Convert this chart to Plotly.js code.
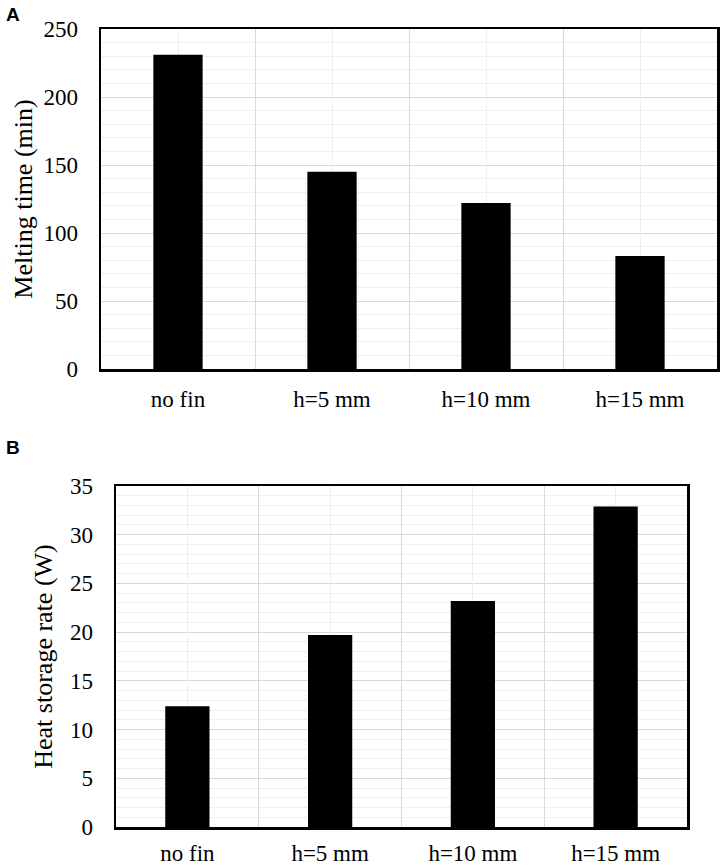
<!DOCTYPE html>
<html>
<head>
<meta charset="utf-8">
<script src="https://cdn.plot.ly/plotly-3.0.1.min.js"></script>
<style>html,body{margin:0;padding:0;background:#fff;}#chart{width:720px;height:865px;}</style>
</head>
<body>
<div id="chart"></div>
<script>
const categories = ["no fin", "h=5 mm", "h=10 mm", "h=15 mm"];
const meltingTime = [231, 145, 122, 83];
const heatStorageRate = [12.4, 19.7, 23.2, 32.9];
const centerPos = [0, 1, 2, 3];

const serif = "Liberation Serif, Times New Roman, serif";
const majorGrid = "#d9d9d9";
const minorGrid = "#efefef";

const traces = [
  {type: "bar", x: categories, y: meltingTime, xaxis: "x", yaxis: "y",
   width: 0.32, marker: {color: "#000"}, hoverinfo: "x+y"},
  {type: "bar", x: categories, y: heatStorageRate, xaxis: "x2", yaxis: "y2",
   width: 0.31, marker: {color: "#000"}, hoverinfo: "x+y"}
];

function catAxis(domain, anchor, standoff) {
  return {
    domain: domain, anchor: anchor, type: "category",
    tickson: "boundaries", showgrid: true, gridcolor: majorGrid, gridwidth: 1,
    ticks: "", showline: true, linecolor: "#000", linewidth: 2.5, mirror: true,
    tickfont: {family: serif, size: 23, color: "#000"},
    ticklabelstandoff: standoff, zeroline: false, fixedrange: true,
    range: [-0.5, 3.5]
  };
}
function overlayAxis(domain, anchor, over) {
  return {
    domain: domain, anchor: anchor, overlaying: over, type: "linear",
    range: [-0.5, 3.5], tickvals: centerPos, showticklabels: false, ticks: "",
    showgrid: true, gridcolor: minorGrid, gridwidth: 1, zeroline: false, showline: false
  };
}
function valAxis(domain, anchor, rng, dt, mdt, title, standoff) {
  return {
    domain: domain, anchor: anchor, range: rng, dtick: dt, tick0: 0,
    showgrid: true, gridcolor: majorGrid, gridwidth: 1,
    minor: {dtick: mdt, showgrid: true, gridcolor: minorGrid, gridwidth: 1, ticks: ""},
    ticks: "", showline: true, linecolor: "#000", linewidth: 2.5, mirror: true,
    zeroline: false, tickfont: {family: serif, size: 23, color: "#000"},
    ticklabelstandoff: 16,
    title: {text: title, font: {family: serif, size: 26, color: "#000"}, standoff: standoff}
  };
}

const topX = [101/720, 717/720], topY = [1 - 369/865, 1 - 29/865];
const botX = [116/720, 687/720], botY = [1 - 827/865, 1 - 486/865];

traces.push({type: "scatter", x: [0], y: [0], xaxis: "x3", yaxis: "y", mode: "markers",
  marker: {opacity: 0}, hoverinfo: "skip", showlegend: false});
traces.push({type: "scatter", x: [0], y: [0], xaxis: "x4", yaxis: "y2", mode: "markers",
  marker: {opacity: 0}, hoverinfo: "skip", showlegend: false});

const layout = {
  width: 720, height: 865,
  margin: {l: 0, r: 0, t: 0, b: 0},
  paper_bgcolor: "#fff", plot_bgcolor: "#fff",
  showlegend: false,
  xaxis: catAxis(topX, "y", 8),
  yaxis: valAxis(topY, "x", [0, 250], 50, 10, "Melting time (min)", 4),
  xaxis2: catAxis(botX, "y2", 4),
  yaxis2: valAxis(botY, "x2", [0, 35], 5, 1, "Heat storage rate (W)", 10),
  xaxis3: overlayAxis(topX, "y", "x"),
  xaxis4: overlayAxis(botX, "y2", "x2"),
  annotations: [
    {text: "<b>A</b>", x: 4/720, y: 1 - 2/865, xref: "paper", yref: "paper",
     xanchor: "left", yanchor: "top", showarrow: false,
     font: {family: "Liberation Sans, Arial, sans-serif", size: 19, color: "#000"}},
    {text: "<b>B</b>", x: 4/720, y: 1 - 435/865, xref: "paper", yref: "paper",
     xanchor: "left", yanchor: "top", showarrow: false,
     font: {family: "Liberation Sans, Arial, sans-serif", size: 19, color: "#000"}}
  ]
};

Plotly.newPlot("chart", traces, layout, {displayModeBar: false, staticPlot: true});
</script>
</body>
</html>
